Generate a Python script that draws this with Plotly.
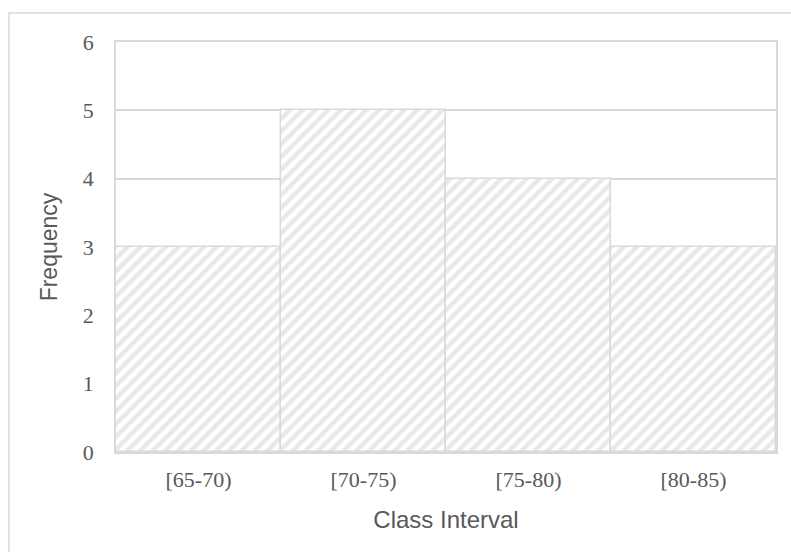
import plotly.graph_objects as go

# Frequency table
class_intervals = ["[65-70)", "[70-75)", "[75-80)", "[80-85)"]
frequencies = [3, 5, 4, 3]
y_ticks = [0, 1, 2, 3, 4, 5, 6]

GRID = "#d9d9d9"
TEXT = "#595959"
SANS = "Liberation Sans, Arial, sans-serif"
SERIF = "Liberation Serif, Times New Roman, serif"

W, H = 791, 552
L, R, T, B = 116, 15, 42, 100
pw, ph = W - L - R, H - T - B


def px_x(x):
    return (x - L) / pw


def px_y(y):
    return (H - B - y) / ph


fig = go.Figure(
    go.Bar(
        x=class_intervals,
        y=frequencies,
        marker=dict(
            color="white",
            line=dict(color=GRID, width=1.5),
            pattern=dict(shape="/", fgcolor="#d2d2d2", bgcolor="white",
                         size=9, solidity=0.5, fillmode="overlay"),
        ),
        width=1.0,
        hoverinfo="x+y",
    )
)

fig.update_layout(
    width=W, height=H,
    margin=dict(l=L, r=R, t=T, b=B),
    paper_bgcolor="white",
    plot_bgcolor="white",
    bargap=0,
    showlegend=False,
    xaxis=dict(
        title=dict(text="Class Interval", font=dict(family=SANS, size=24, color=TEXT),
                   standoff=20),
        tickfont=dict(family=SERIF, size=22, color=TEXT),
        showline=True, linecolor=GRID, linewidth=1.5, mirror=True,
        showgrid=False, ticks="", ticklabelstandoff=7,
    ),
    yaxis=dict(
        title=dict(text="Frequency", font=dict(family=SANS, size=23, color=TEXT),
                   standoff=19),
        range=[0, 6], tickvals=y_ticks,
        tickfont=dict(family=SERIF, size=22, color=TEXT),
        showline=True, linecolor=GRID, linewidth=1.5, mirror=True,
        showgrid=True, gridcolor=GRID, gridwidth=1.5,
        zeroline=False, ticks="", ticklabelstandoff=16,
    ),
    shapes=[
        dict(type="rect", xref="paper", yref="paper",
             x0=px_x(9), x1=px_x(800), y0=px_y(13), y1=px_y(570),
             line=dict(color=GRID, width=1.5), layer="below"),
    ],
)

fig.write_html("out.html")
